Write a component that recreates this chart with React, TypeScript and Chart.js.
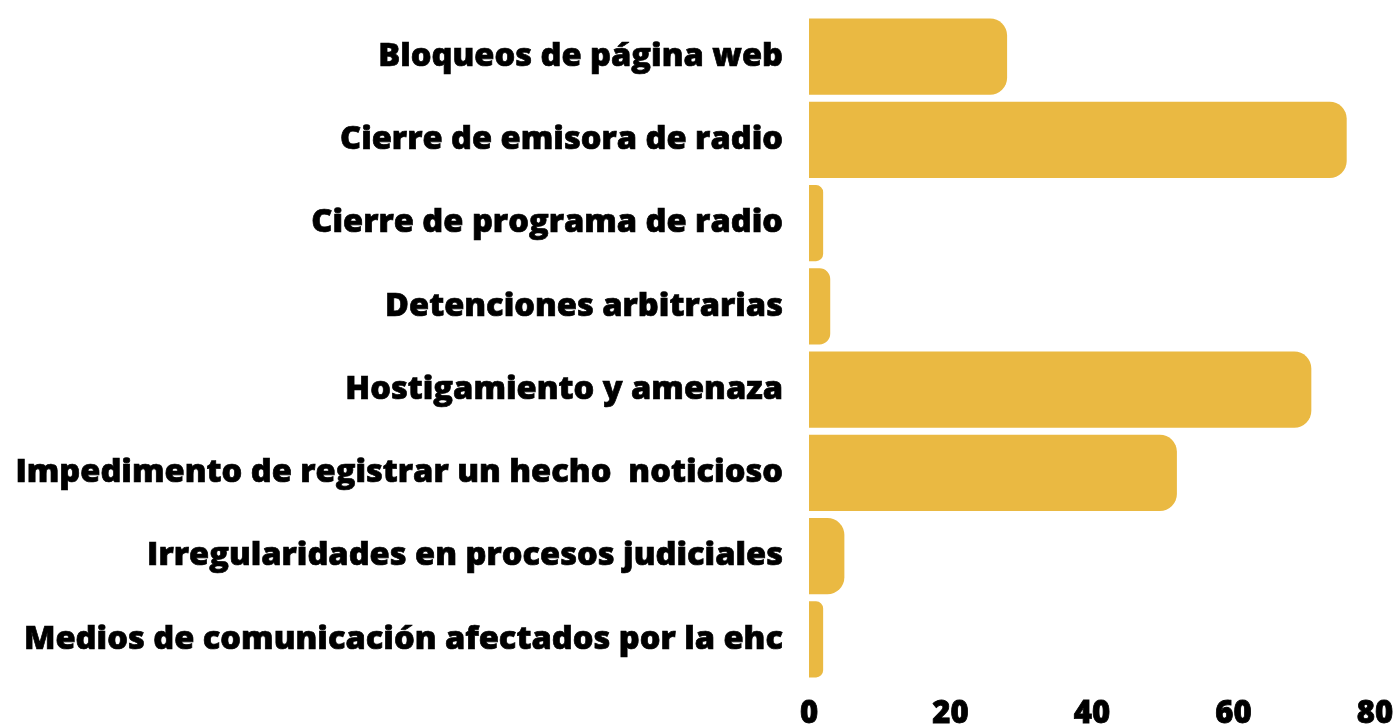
import React, { useEffect, useRef } from "react";
import { Chart, registerables } from "chart.js";

Chart.register(...registerables);

const categories = [
  "Bloqueos de página web",
  "Cierre de emisora de radio",
  "Cierre de programa de radio",
  "Detenciones arbitrarias",
  "Hostigamiento y amenaza",
  "Impedimento de registrar un hecho  noticioso",
  "Irregularidades en procesos judiciales",
  "Medios de comunicación afectados por la ehc",
];

const values = [28, 76, 2, 3, 71, 52, 5, 2];

const xTicks = [0, 20, 40, 60, 80];

const BAR_COLOR = "#EAB942";
const FONT = "'Open Sans', 'DejaVu Sans', sans-serif";

export default function App() {
  const ref = useRef<HTMLCanvasElement | null>(null);

  useEffect(() => {
    if (!ref.current) return;
    const chart = new Chart(ref.current, {
      type: "bar",
      data: {
        labels: categories,
        datasets: [
          {
            data: values,
            backgroundColor: BAR_COLOR,
            borderRadius: 17,
            borderSkipped: "start",
            barPercentage: 0.914,
            categoryPercentage: 1,
          },
        ],
      },
      options: {
        indexAxis: "y",
        responsive: false,
        animation: false,
        layout: { padding: { top: 15, right: 20, bottom: 0, left: 0 } },
        plugins: {
          legend: { display: false },
          tooltip: { enabled: false },
        },
        scales: {
          x: {
            min: xTicks[0],
            max: xTicks[xTicks.length - 1],
            grid: { display: false, drawTicks: false },
            border: { display: false },
            ticks: {
              stepSize: 20,
              padding: 15,
              color: "#000",
              textStrokeColor: "#000",
              textStrokeWidth: 0.8,
              font: { family: FONT, size: 31, weight: "800" as any },
            },
            afterFit: (scale: any) => {
              scale.height = 46;
              scale.paddingLeft = 0;
              scale.paddingRight = 0;
            },
          },
          y: {
            grid: { display: false, drawTicks: false },
            border: { display: false },
            ticks: {
              padding: 26,
              color: "#000",
              autoSkip: false,
              textStrokeColor: "#000",
              textStrokeWidth: 0.7,
              font: { family: FONT, size: 32.6, weight: "800" as any },
            },
            afterFit: (scale: any) => {
              scale.width = 809;
              scale.paddingTop = 0;
              scale.paddingBottom = 0;
            },
          },
        },
      },
    });
    return () => chart.destroy();
  }, []);

  return (
    <div style={{ position: "absolute", left: 0, top: 0, width: 1395, height: 727, background: "#fff" }}>
      <canvas ref={ref} width={1395} height={727} />
    </div>
  );
}
